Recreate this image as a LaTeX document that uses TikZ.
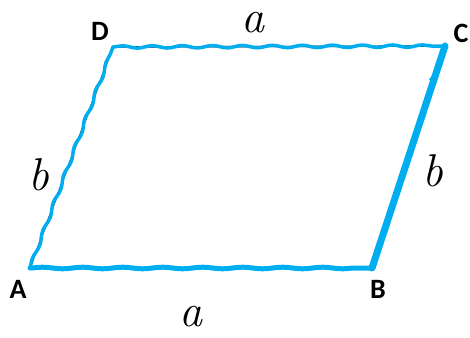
\documentclass[tikz,border=0pt]{standalone}
\usepackage{fontspec}
\newfontfamily\labelfont{Carlito}
\usetikzlibrary{decorations.pathmorphing}
\definecolor{penblue}{HTML}{00AEEF}

\begin{document}
\begin{tikzpicture}[x=1pt, y=-1pt,
  vertex/.style={font=\labelfont\bfseries\fontsize{28}{28}\selectfont, inner sep=0pt},
  side/.style={font=\fontsize{46}{46}\selectfont\itshape, inner sep=0pt},
  ink/.style={black, line width=1.4pt},
  pen/.style={penblue, line width=3.5pt, line cap=round, line join=round,
    decorate, decoration={snake, amplitude=1.2pt, segment length=30pt}}]
\useasboundingbox (0,0) rectangle (470,337);

% Corners
\coordinate (A) at (30,268);
\coordinate (B) at (372,268);
\coordinate (C) at (445,46);
\coordinate (D) at (113,47);

% Black outline
\draw[ink] (A) -- (B) -- (C) -- (D) -- cycle;

% Blue strokes over it
\draw[pen] (D) -- (C);
\draw[pen] (A) -- (D);
\draw[pen, line width=5pt, decoration={snake, amplitude=0.8pt, segment length=40pt}] (A) -- (B);
\draw[penblue, line width=7pt, line cap=round] (B) -- (C);
\draw[penblue, line width=2.5pt] (C) .. controls (440,62) and (436,75) .. (430,80);

% Vertex labels
\node[vertex] (lA) at (18,289) {A};
\node[vertex] (lB) at (378,289) {B};
\node[vertex] (lC) at (461,33) {C};
\node[vertex] (lD) at (100,31) {D};

% Side labels
\node[side] (top) at (253,23) {a};
\node[side] (bottom) at (191,317) {a};
\node[side] (left) at (39,175) {b};
\node[side] (right) at (433,171) {b};

\end{tikzpicture}
\end{document}
